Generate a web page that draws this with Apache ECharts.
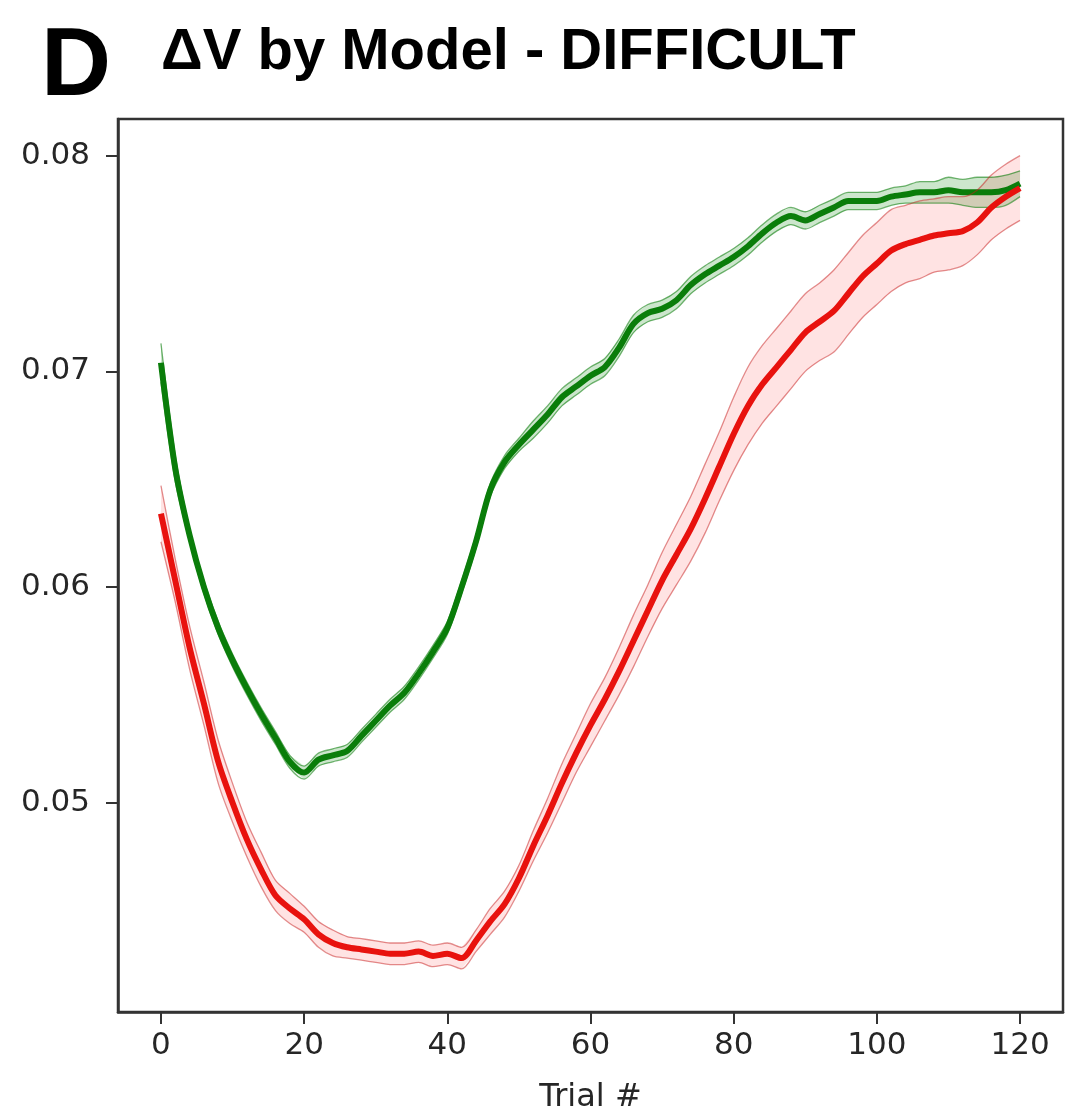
<!DOCTYPE html>
<html>
<head>
<meta charset="utf-8">
<script src="https://cdn.jsdelivr.net/npm/echarts@6/dist/echarts.min.js"></script>
<style>
  html, body { margin: 0; padding: 0; background: #fff; }
  #chart { width: 1065px; height: 1115px; }
</style>
</head>
<body>
<div id="chart"></div>
<script>
// trial numbers (x), every 2 trials
const trials = [0, 2, 4, 6, 8, 10, 12, 14, 16, 18, 20, 22, 24, 26, 28, 30, 32, 34, 36, 38, 40,
  42, 44, 46, 48, 50, 52, 54, 56, 58, 60, 62, 64, 66, 68, 70, 72, 74, 76, 78, 80,
  82, 84, 86, 88, 90, 92, 94, 96, 98, 100, 102, 104, 106, 108, 110, 112, 114, 116, 118, 120];

// green model: mean and half-width of the shaded band
const greenMean = [0.0704, 0.0655, 0.0624, 0.0600, 0.0581, 0.0566, 0.0553, 0.0541, 0.0530, 0.0519, 0.0514,
  0.0520, 0.0522, 0.0524, 0.0531, 0.0538, 0.0545, 0.0551, 0.0560, 0.0570, 0.0581,
  0.0600, 0.0621, 0.0645, 0.0658, 0.0666, 0.0673, 0.0680, 0.0688, 0.0693, 0.0698,
  0.0702, 0.0711, 0.0722, 0.0727, 0.0729, 0.0733, 0.0740, 0.0745, 0.0749, 0.0753,
  0.0758, 0.0764, 0.0769, 0.0772, 0.0770, 0.0773, 0.0776, 0.0779, 0.0779, 0.0779,
  0.0781, 0.0782, 0.0783, 0.0783, 0.0784, 0.0783, 0.0783, 0.0783, 0.0784, 0.0787];
const greenSem = [0.0009, 0.0006, 0.0003, 0.0003, 0.0003, 0.0003, 0.0003, 0.0003, 0.0003, 0.0003, 0.0003,
  0.0003, 0.0003, 0.0003, 0.0003, 0.0003, 0.0003, 0.0003, 0.0003, 0.0003, 0.0003,
  0.0003, 0.0003, 0.0003, 0.0003, 0.0003, 0.0004, 0.0004, 0.0004, 0.0004, 0.0004,
  0.0004, 0.0004, 0.0004, 0.0004, 0.0004, 0.0004, 0.0004, 0.0004, 0.0004, 0.0004,
  0.0004, 0.0004, 0.0004, 0.0004, 0.0004, 0.0004, 0.0004, 0.0004, 0.0004, 0.0004,
  0.0004, 0.0004, 0.0005, 0.0005, 0.0006, 0.0006, 0.0007, 0.0007, 0.0007, 0.0006];

// red model
const redMean = [0.0634, 0.0603, 0.0572, 0.0546, 0.0519, 0.0500, 0.0483, 0.0469, 0.0457, 0.0451, 0.0446,
  0.0439, 0.0435, 0.0433, 0.0432, 0.0431, 0.0430, 0.0430, 0.0431, 0.0429, 0.0430,
  0.0428, 0.0436, 0.0445, 0.0453, 0.0465, 0.0480, 0.0494, 0.0509, 0.0523, 0.0536,
  0.0548, 0.0561, 0.0575, 0.0589, 0.0603, 0.0615, 0.0627, 0.0641, 0.0656, 0.0671,
  0.0684, 0.0694, 0.0702, 0.0710, 0.0718, 0.0723, 0.0728, 0.0736, 0.0744, 0.0750,
  0.0756, 0.0759, 0.0761, 0.0763, 0.0764, 0.0765, 0.0769, 0.0776, 0.0781, 0.0785];
const redSem = [0.0013, 0.0010, 0.0010, 0.0010, 0.0010, 0.0009, 0.0008, 0.0008, 0.0007, 0.0007, 0.0006,
  0.0006, 0.0006, 0.0005, 0.0005, 0.0005, 0.0005, 0.0005, 0.0005, 0.0005, 0.0005,
  0.0005, 0.0005, 0.0006, 0.0006, 0.0006, 0.0007, 0.0008, 0.0009, 0.0009, 0.0010,
  0.0010, 0.0011, 0.0012, 0.0012, 0.0013, 0.0014, 0.0015, 0.0016, 0.0016, 0.0017,
  0.0018, 0.0018, 0.0018, 0.0018, 0.0018, 0.0018, 0.0019, 0.0019, 0.0019, 0.0019,
  0.0019, 0.0018, 0.0018, 0.0017, 0.0017, 0.0016, 0.0015, 0.0015, 0.0015, 0.0015];

const xTicks = [0, 20, 40, 60, 80, 100, 120];
const yTicks = [0.05, 0.06, 0.07, 0.08];

const tickFont = 'DejaVu Sans';
const axisColor = '#333';

// shaded band: one polygon (upper edge then lower edge reversed), drawn through the axes
function bandFill(mean, sem, fillColor) {
  const data = trials.map((t, i) => [t, mean[i] - sem[i], mean[i] + sem[i]]);
  return {
    type: 'custom',
    silent: true,
    encode: { x: 0, y: [1, 2] },
    data: data,
    renderItem: (params, api) => {
      if (params.dataIndex !== 0) return;
      const upper = data.map(d => api.coord([d[0], d[2]]));
      const lower = data.map(d => api.coord([d[0], d[1]])).reverse();
      return {
        type: 'polygon',
        shape: { points: upper.concat(lower) },
        style: { fill: fillColor, stroke: null }
      };
    }
  };
}

function edgeLine(mean, sem, sign, color) {
  return {
    type: 'line',
    data: trials.map((t, i) => [t, mean[i] + sign * sem[i]]),
    symbol: 'none',
    smooth: 0.3,
    lineStyle: { color: color, width: 1.3 },
    silent: true
  };
}

function meanSeries(name, mean, color) {
  return {
    name: name,
    type: 'line',
    data: trials.map((t, i) => [t, mean[i]]),
    symbol: 'none',
    smooth: 0.3,
    lineStyle: { color: color, width: 6 },
    silent: true
  };
}

const chart = echarts.init(document.getElementById('chart'), null, { renderer: 'canvas' });

chart.setOption({
  animation: false,
  backgroundColor: '#fff',
  title: [
    {
      text: 'D',
      left: 36,
      top: 15,
      textStyle: { fontFamily: 'Liberation Sans', fontWeight: 'bold', fontSize: 97, color: '#000' }
    },
    {
      text: 'ΔV by Model - DIFFICULT',
      left: 156,
      top: 19,
      textStyle: { fontFamily: 'Liberation Sans', fontWeight: 'bold', fontSize: 58, color: '#000' }
    }
  ],
  grid: {
    left: 118,
    right: 2,
    top: 119,
    bottom: 103,
    outerBoundsMode: 'none',
    containLabel: false,
    show: true,
    borderColor: axisColor,
    borderWidth: 2.5,
    backgroundColor: 'transparent'
  },
  xAxis: {
    type: 'value',
    min: -6,
    max: 126,
    name: 'Trial #',
    nameLocation: 'middle',
    nameGap: 70,
    nameTextStyle: { fontFamily: tickFont, fontSize: 32, color: '#262626' },
    axisLine: { show: true, onZero: false, lineStyle: { color: axisColor, width: 2.5 } },
    axisTick: { show: true, length: 12, lineStyle: { color: axisColor, width: 2 }, customValues: xTicks },
    axisLabel: { fontFamily: tickFont, fontSize: 31, color: '#262626', margin: 18, customValues: xTicks },
    splitLine: { show: false }
  },
  yAxis: {
    type: 'value',
    min: 0.0403,
    max: 0.0817,
    axisLine: { show: true, onZero: false, lineStyle: { color: axisColor, width: 2.5 } },
    axisTick: { show: true, length: 12, lineStyle: { color: axisColor, width: 2 }, customValues: yTicks },
    axisLabel: {
      fontFamily: tickFont,
      fontSize: 31,
      color: '#262626',
      margin: 28,
      customValues: yTicks,
      formatter: v => v.toFixed(2)
    },
    splitLine: { show: false }
  },
  series: [
    bandFill(greenMean, greenSem, 'rgba(0,128,0,0.2)'),
    edgeLine(greenMean, greenSem, 1, 'rgba(0,120,0,0.55)'),
    edgeLine(greenMean, greenSem, -1, 'rgba(0,120,0,0.55)'),
    meanSeries('green', greenMean, '#0a7d0a'),
    bandFill(redMean, redSem, 'rgba(255,0,0,0.11)'),
    edgeLine(redMean, redSem, 1, 'rgba(200,30,30,0.5)'),
    edgeLine(redMean, redSem, -1, 'rgba(200,30,30,0.5)'),
    meanSeries('red', redMean, '#e8120e')
  ]
});
</script>
</body>
</html>
